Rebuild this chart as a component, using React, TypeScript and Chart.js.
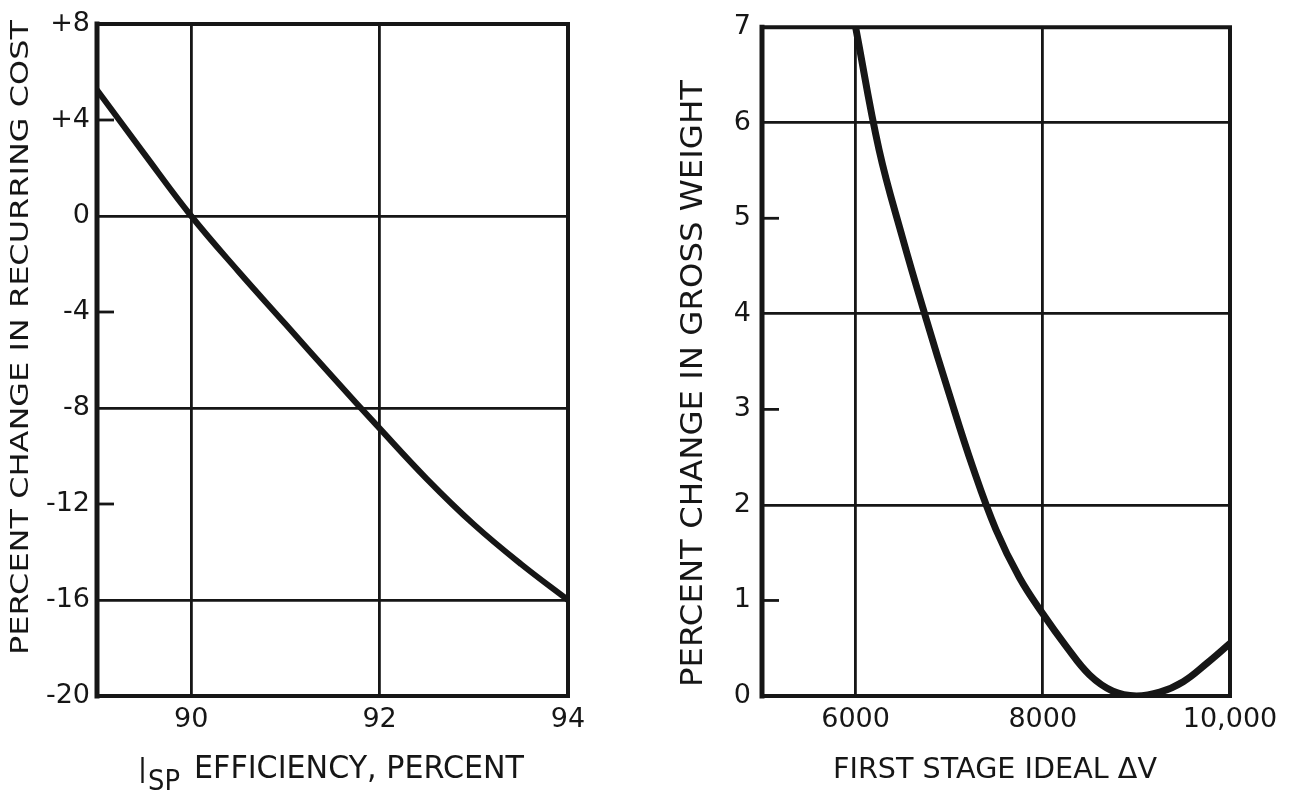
import React, { useEffect, useRef } from 'react';
import { Chart, registerables } from 'chart.js';

Chart.register(...registerables);

// ---------- data ----------
const ispEfficiency = [89, 89.5, 90, 90.5, 91, 91.5, 92, 92.5, 93, 93.5, 94];
const recurringCostChange = [5.25, 2.6, 0.0, -2.3, -4.5, -6.7, -8.85, -10.95, -12.85, -14.5, -16.0];

const firstStageDeltaV = [6000, 6250, 6500, 6750, 7000, 7250, 7500, 7750, 8000, 8250, 8500, 8750, 9000, 9250, 9500, 9750, 10000];
const grossWeightChange = [7.0, 5.72, 4.8, 3.96, 3.16, 2.4, 1.74, 1.24, 0.86, 0.52, 0.22, 0.05, 0.0, 0.04, 0.15, 0.34, 0.55];

const leftXTicks = [90, 92, 94];
const leftYMajor = [0, -8, -16];
const leftYMinor = [4, -4, -12];
const leftXMajor = [90, 92];

const rightXTicks = [6000, 8000, 10000];
const rightYMajor = [2, 4, 6];
const rightYMinor = [1, 3, 5];
const rightXMajor = [6000, 8000];

const leftYTitle = 'PERCENT CHANGE IN RECURRING COST';
const leftXTitleMain = 'EFFICIENCY, PERCENT';
const rightYTitle = 'PERCENT CHANGE IN GROSS WEIGHT';
const rightXTitle = 'FIRST STAGE IDEAL \u0394V';

const INK = '#161616';
const FONT = '"DejaVu Sans"';

function fitText(ctx: CanvasRenderingContext2D, text: string, x: number, y: number, len: number, cap: number, rot = 0) {
  ctx.save();
  ctx.font = `100px ${FONT}`;
  const w = ctx.measureText(text).width;
  const h = ctx.measureText('H').actualBoundingBoxAscent || 73;
  ctx.translate(x, y);
  if (rot) ctx.rotate(rot);
  ctx.scale(len / w, cap / h);
  ctx.textBaseline = 'alphabetic';
  ctx.textAlign = 'left';
  ctx.fillStyle = INK;
  ctx.fillText(text, 0, 0);
  ctx.restore();
}

const framePlugin = {
  id: 'frame',
  beforeDatasetsDraw(chart: any, _args: any, opts: any) {
    const { ctx, chartArea } = chart;
    const y = chart.scales.y;
    ctx.save();
    ctx.strokeStyle = INK;
    ctx.lineWidth = 2.8;
    for (const v of opts.minor || []) {
      const py = y.getPixelForValue(v);
      ctx.beginPath();
      ctx.moveTo(chartArea.left, py);
      ctx.lineTo(chartArea.left + 17, py);
      ctx.stroke();
    }
    ctx.restore();
  },
  afterDatasetsDraw(chart: any) {
    const { ctx, chartArea } = chart;
    const { left, right, top, bottom } = chartArea;
    ctx.save();
    ctx.strokeStyle = INK;
    ctx.lineCap = 'square';
    ctx.lineWidth = 4;
    ctx.beginPath();
    ctx.moveTo(left, top);
    ctx.lineTo(right, top);
    ctx.lineTo(right, bottom);
    ctx.lineTo(left, bottom);
    ctx.stroke();
    ctx.lineWidth = 5;
    ctx.beginPath();
    ctx.moveTo(left, top);
    ctx.lineTo(left, bottom);
    ctx.stroke();
    ctx.restore();
  },
  afterDraw(chart: any, _args: any, opts: any) {
    if (opts.drawTitles) opts.drawTitles(chart.ctx);
  },
};

function makeConfig(p: {
  xs: number[]; ys: number[]; xMin: number; xMax: number; xTicks: number[]; xMajor: number[];
  yMin: number; yMax: number; yStep: number; yMajor: number[]; yMinor: number[];
  yWidth: number; padRight: number; lineWidth: number;
  xLabel: (v: number) => string; yLabel: (v: number) => string; yPad: number;
  drawTitles: (ctx: CanvasRenderingContext2D) => void;
}): any {
  return {
    type: 'line',
    data: {
      datasets: [{
        data: p.xs.map((x, i) => ({ x, y: p.ys[i] })),
        borderColor: INK,
        borderWidth: p.lineWidth,
        pointRadius: 0,
        tension: 0.4,
        fill: false,
        borderCapStyle: 'round',
        borderJoinStyle: 'round',
      }],
    },
    options: {
      responsive: false,
      animation: false,
      layout: { padding: { left: 0, top: 24, right: p.padRight, bottom: 0 } },
      plugins: {
        legend: { display: false },
        tooltip: { enabled: false },
        frame: { minor: p.yMinor, drawTitles: p.drawTitles },
      },
      scales: {
        x: {
          type: 'linear',
          min: p.xMin,
          max: p.xMax,
          afterBuildTicks: (s: any) => { s.ticks = p.xTicks.map((v) => ({ value: v })); },
          afterFit: (s: any) => { s.height = 99; },
          border: { display: false },
          grid: {
            drawTicks: false,
            lineWidth: 2.8,
            color: (c: any) => (c.tick && p.xMajor.includes(c.tick.value) ? INK : 'rgba(0,0,0,0)'),
          },
          ticks: {
            padding: 8,
            color: INK,
            font: { family: FONT, size: 27 },
            maxRotation: 0,
            autoSkip: false,
            callback: (v: any) => p.xLabel(Number(v)),
          },
        },
        y: {
          type: 'linear',
          min: p.yMin,
          max: p.yMax,
          afterFit: (s: any) => { s.width = p.yWidth; },
          border: { display: false },
          grid: {
            drawTicks: false,
            lineWidth: 2.8,
            color: (c: any) => (c.tick && p.yMajor.includes(c.tick.value) ? INK : 'rgba(0,0,0,0)'),
          },
          ticks: {
            stepSize: p.yStep,
            padding: p.yPad,
            color: INK,
            font: { family: FONT, size: 27 },
            autoSkip: false,
            callback: (v: any) => p.yLabel(Number(v)),
          },
        },
      },
    },
    plugins: [framePlugin],
  };
}

export default function App() {
  const leftRef = useRef<HTMLCanvasElement>(null);
  const rightRef = useRef<HTMLCanvasElement>(null);

  useEffect(() => {
    const left = new Chart(leftRef.current as HTMLCanvasElement, makeConfig({
      xs: ispEfficiency, ys: recurringCostChange,
      xMin: 89, xMax: 94, xTicks: leftXTicks, xMajor: leftXMajor,
      yMin: -20, yMax: 8, yStep: 4, yMajor: leftYMajor, yMinor: leftYMinor,
      yWidth: 97, padRight: 72, lineWidth: 6, yPad: 7,
      xLabel: (v) => String(v),
      yLabel: (v) => (v > 0 ? '+' + v : String(v)),
      drawTitles: (ctx) => {
        fitText(ctx, leftYTitle, 28, 655, 635, 18, -Math.PI / 2);
        fitText(ctx, 'I', 139, 783, 7, 26);
        fitText(ctx, 'SP', 148, 790, 32, 21);
        fitText(ctx, leftXTitleMain, 194, 778, 330, 23);
      },
    }));
    const right = new Chart(rightRef.current as HTMLCanvasElement, makeConfig({
      xs: firstStageDeltaV, ys: grossWeightChange,
      xMin: 5000, xMax: 10000, xTicks: rightXTicks, xMajor: rightXMajor,
      yMin: 0, yMax: 7, yStep: 1, yMajor: rightYMajor, yMinor: rightYMinor,
      yWidth: 117, padRight: 61, lineWidth: 7, yPad: 11,
      xLabel: (v) => (v >= 10000 ? v.toLocaleString('en-US') : String(v)),
      yLabel: (v) => String(v),
      drawTitles: (ctx) => {
        fitText(ctx, rightYTitle, 57, 687, 607, 22, -Math.PI / 2);
        fitText(ctx, rightXTitle, 188, 778, 324, 21);
      },
    }));
    return () => {
      left.destroy();
      right.destroy();
    };
  }, []);

  return (
    <div style={{ position: 'absolute', left: 0, top: 0, width: 1291, height: 795, background: '#fff' }}>
      <canvas ref={leftRef} width={640} height={795} style={{ position: 'absolute', left: 0, top: 0, display: 'block' }} />
      <canvas ref={rightRef} width={646} height={795} style={{ position: 'absolute', left: 645, top: 0, display: 'block' }} />
    </div>
  );
}
